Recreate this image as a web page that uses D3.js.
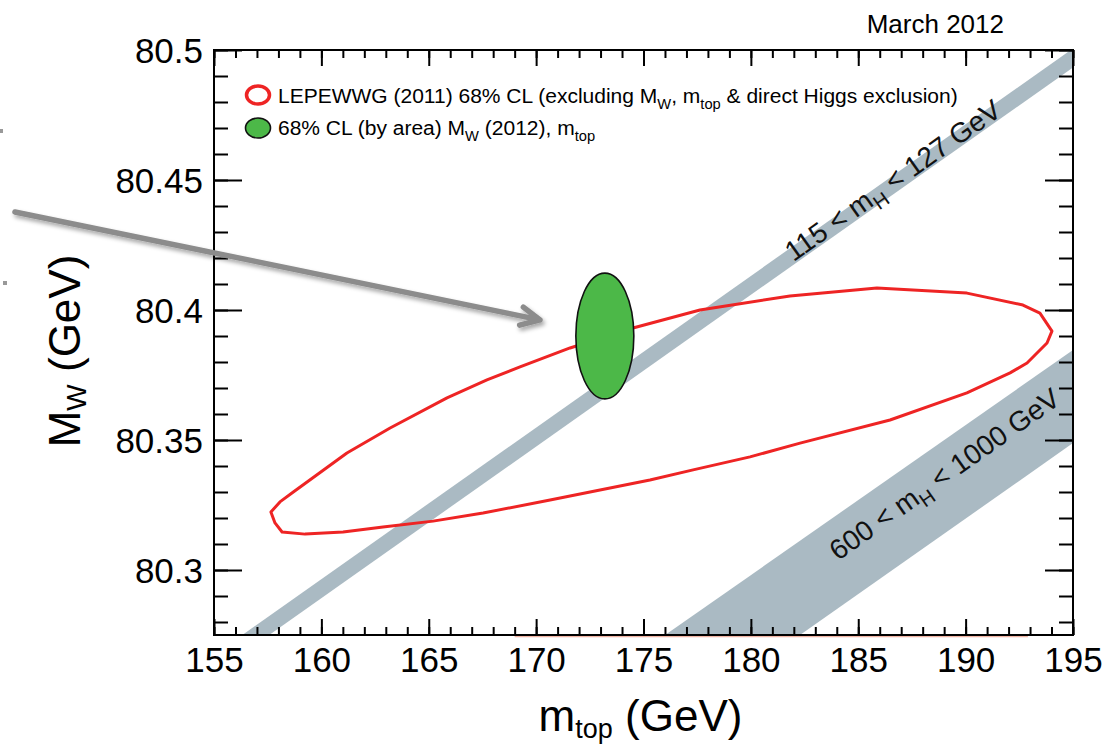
<!DOCTYPE html>
<html>
<head>
<meta charset="utf-8">
<script src="https://cdn.jsdelivr.net/npm/d3@7"></script>
<style>
  html, body { margin: 0; padding: 0; background: #fff; }
  svg { display: block; font-family: "Liberation Sans", Arial, Helvetica, sans-serif; }
</style>
</head>
<body>
<svg id="chart" width="1106" height="747"></svg>
<script>
// ---------------- data ----------------
const mtDomain = [155, 195];
const mwDomain = [80.275, 80.5];
const mtMajorTicks = [155, 160, 165, 170, 175, 180, 185, 190, 195];
const mtMinorTicks = d3.range(155, 196, 1);
const mwMajorTicks = [80.3, 80.35, 80.4, 80.45, 80.5];
const mwMinorTicks = d3.range(28, 51, 1).map(d => 80 + d / 100);

// LEPEWWG (2011) 68% CL contour (m_top, M_W)
const lepContour = [
  [157.65, 80.3223], [158.07, 80.3262], [158.63, 80.3296], [161.19, 80.3450],
  [163.20, 80.3546], [165.85, 80.3662], [167.71, 80.3731], [169.25, 80.3781],
  [171.58, 80.3854], [174.51, 80.3931], [177.63, 80.4000], [181.82, 80.4054],
  [185.87, 80.4085], [190.06, 80.4065], [192.67, 80.4019], [193.46, 80.3988],
  [194.02, 80.3919], [193.79, 80.3873], [192.86, 80.3796], [192.07, 80.3758],
  [190.06, 80.3681], [186.48, 80.3577], [182.29, 80.3488], [179.96, 80.3435],
  [177.31, 80.3385], [175.30, 80.3346], [170.65, 80.3269], [167.53, 80.3219],
  [165.20, 80.3188], [162.87, 80.3165], [161.01, 80.3146], [159.24, 80.3138],
  [158.17, 80.3146], [157.84, 80.3181]
];

// Higgs-mass bands (edges at m_top = 155 and 195)
const lightBandUpper = [[155, 80.2673], [195, 80.5006]];
const lightBandLower = [[155, 80.2600], [195, 80.4933]];
const heavyBandUpper = [[155, 80.1538], [195, 80.3846]];
const heavyBandLower = [[155, 80.1166], [195, 80.3488]];
const bandLabels = [
  { pre: "115 < m", sub: "H", post: " < 127 GeV", mt: 186.6, mw: 80.4500, slope: 0.005833 },
  { pre: "600 < m", sub: "H", post: " < 1000 GeV", mt: 189.0, mw: 80.3370, slope: 0.00585 }
];

// 68% CL (by area) M_W (2012), m_top
const fitCenter = [173.2, 80.39];
const fitRadius = [1.35, 0.0242];

// annotation arrow (data coordinates)
const arrowStart = [145.73, 80.4377];
const arrowEnd = [170.18, 80.3962];

const legendRows = [
  { parts: [["LEPEWWG (2011) 68% CL (excluding M", 0], ["W", 1], [", m", 0], ["top", 1], [" & direct Higgs exclusion)", 0]], kind: "open" },
  { parts: [["68% CL (by area) M", 0], ["W", 1], [" (2012), m", 0], ["top", 1]], kind: "fill" }
];

// ---------------- layout ----------------
const L = 214, R = 1073, T = 50, B = 635;
const svg = d3.select("#chart");
const x = d3.scaleLinear().domain(mtDomain).range([L, R]);
const y = d3.scaleLinear().domain(mwDomain).range([B, T]);

const defs = svg.append("defs");
defs.append("clipPath").attr("id", "plotclip")
  .append("rect").attr("x", L).attr("y", T).attr("width", R - L).attr("height", B - T);
const f = defs.append("filter").attr("id", "shadow").attr("x", "-10%").attr("y", "-50%").attr("width", "120%").attr("height", "200%");
f.append("feDropShadow").attr("dx", 2).attr("dy", 3).attr("stdDeviation", 2)
  .attr("flood-color", "#000").attr("flood-opacity", 0.35);

const plot = svg.append("g").attr("clip-path", "url(#plotclip)");
const bandColor = "#aabac3";
const poly = (up, lo) => up.concat(lo.slice().reverse()).map(p => [x(p[0]), y(p[1])]);
plot.append("path").attr("d", d3.line()(poly(lightBandUpper, lightBandLower)) + "Z").attr("fill", bandColor);
plot.append("path").attr("d", d3.line()(poly(heavyBandUpper, heavyBandLower)) + "Z").attr("fill", bandColor);

// LEP contour
plot.append("path")
  .attr("d", d3.line().x(d => x(d[0])).y(d => y(d[1])).curve(d3.curveLinearClosed)(lepContour))
  .attr("fill", "none").attr("stroke", "#ee2424").attr("stroke-width", 3).attr("stroke-linejoin", "round");

// green ellipse
plot.append("ellipse")
  .attr("cx", x(fitCenter[0])).attr("cy", y(fitCenter[1]))
  .attr("rx", x(fitCenter[0] + fitRadius[0]) - x(fitCenter[0]))
  .attr("ry", y(fitCenter[1] - fitRadius[1]) - y(fitCenter[1]))
  .attr("fill", "#4cb848").attr("stroke", "#111").attr("stroke-width", 1.6);

// faint red line beneath axis
svg.append("line").attr("x1", x(169.0)).attr("x2", x(192.9)).attr("y1", B + 1.5).attr("y2", B + 1.5)
  .attr("stroke", "#f0b4a4").attr("stroke-width", 1.5);

// ---------------- axes ----------------
function styleAxis(g) {
  g.select(".domain").remove();
  g.selectAll(".tick line").attr("stroke", "#000").attr("stroke-width", 2);
  g.attr("font-family", null).attr("font-size", null);
}
const tickFont = 35;
// bottom
svg.append("g").attr("transform", `translate(0,${B})`)
  .call(d3.axisBottom(x).tickValues(mtMinorTicks).tickSizeInner(-8).tickSizeOuter(0).tickFormat(""))
  .call(styleAxis);
const bx = svg.append("g").attr("transform", `translate(0,${B})`)
  .call(d3.axisBottom(x).tickValues(mtMajorTicks).tickSizeInner(-16).tickSizeOuter(0).tickPadding(12).tickFormat(d3.format("d")))
  .call(styleAxis);
bx.selectAll("text").attr("font-size", tickFont).attr("fill", "#000");
// top
svg.append("g").attr("transform", `translate(0,${T})`)
  .call(d3.axisTop(x).tickValues(mtMinorTicks).tickSizeInner(-8).tickSizeOuter(0).tickFormat(""))
  .call(styleAxis);
svg.append("g").attr("transform", `translate(0,${T})`)
  .call(d3.axisTop(x).tickValues(mtMajorTicks).tickSizeInner(-16).tickSizeOuter(0).tickFormat(""))
  .call(styleAxis);
// left
svg.append("g").attr("transform", `translate(${L},0)`)
  .call(d3.axisLeft(y).tickValues(mwMinorTicks).tickSizeInner(-14).tickSizeOuter(0).tickFormat(""))
  .call(styleAxis);
const ly = svg.append("g").attr("transform", `translate(${L},0)`)
  .call(d3.axisLeft(y).tickValues(mwMajorTicks).tickSizeInner(-28).tickSizeOuter(0).tickPadding(11).tickFormat(d => String(+d.toFixed(2))))
  .call(styleAxis);
ly.selectAll("text").attr("font-size", tickFont).attr("fill", "#000").attr("dy", "0.37em");
// right
svg.append("g").attr("transform", `translate(${R},0)`)
  .call(d3.axisRight(y).tickValues(mwMinorTicks).tickSizeInner(-14).tickSizeOuter(0).tickFormat(""))
  .call(styleAxis);
svg.append("g").attr("transform", `translate(${R},0)`)
  .call(d3.axisRight(y).tickValues(mwMajorTicks).tickSizeInner(-28).tickSizeOuter(0).tickFormat(""))
  .call(styleAxis);
// frame
svg.append("rect").attr("x", L).attr("y", T).attr("width", R - L).attr("height", B - T)
  .attr("fill", "none").attr("stroke", "#000").attr("stroke-width", 2);

// ---------------- axis titles ----------------
const xt = svg.append("text").attr("x", (L + R) / 2 - 3).attr("y", 731).attr("text-anchor", "middle")
  .attr("font-size", 44).attr("fill", "#000");
xt.append("tspan").text("m");
xt.append("tspan").attr("font-size", 27).attr("dy", 7).text("top");
xt.append("tspan").attr("dy", -7).text(" (GeV)");

const yt = svg.append("text").attr("transform", "translate(80,351) rotate(-90)").attr("text-anchor", "middle")
  .attr("font-size", 44).attr("fill", "#000");
yt.append("tspan").text("M");
yt.append("tspan").attr("font-size", 28).attr("dy", 6).text("W");
yt.append("tspan").attr("dy", -6).text(" (GeV)");

svg.append("text").attr("x", 1004).attr("y", 33).attr("text-anchor", "end")
  .attr("font-size", 26).attr("fill", "#000").text("March 2012");

// ---------------- band labels ----------------
bandLabels.forEach(b => {
  const ang = -Math.atan2(b.slope * (y(mwDomain[0]) - y(mwDomain[1])) / (mwDomain[1] - mwDomain[0]),
                          (x(mtDomain[1]) - x(mtDomain[0])) / (mtDomain[1] - mtDomain[0])) * 180 / Math.PI;
  const t = svg.append("text")
    .attr("transform", `translate(${x(b.mt)},${y(b.mw)}) rotate(${ang})`)
    .attr("text-anchor", "middle").attr("dy", "0.36em").attr("font-size", 28).attr("fill", "#111");
  t.append("tspan").text(b.pre);
  t.append("tspan").attr("font-size", 20).attr("dy", 7).text(b.sub);
  t.append("tspan").attr("dy", -7).text(b.post);
});

// ---------------- legend ----------------
const legX = 278, legY0 = 102.5, legDY = 32, legTarget = 680;
let legScale = 1;
legendRows.forEach((row, i) => {
  const cy = legY0 + i * legDY - 7.5;
  if (row.kind === "open") {
    svg.append("ellipse").attr("cx", 258).attr("cy", cy).attr("rx", 11.5).attr("ry", 9)
      .attr("fill", "#fff").attr("stroke", "#ee2424").attr("stroke-width", 3.5);
  } else {
    svg.append("ellipse").attr("cx", 258).attr("cy", cy + 1).attr("rx", 12.5).attr("ry", 10)
      .attr("fill", "#4cb848").attr("stroke", "#111").attr("stroke-width", 1.6);
  }
  const g = svg.append("g").attr("class", "legtext");
  const t = g.append("text").attr("x", 0).attr("y", 0).attr("font-size", 20).attr("fill", "#000");
  let shifted = false;
  row.parts.forEach(([s, sub]) => {
    const sp = t.append("tspan").text(s);
    if (sub) { sp.attr("font-size", 14).attr("dy", 6); shifted = true; }
    else if (shifted) { sp.attr("dy", -6); shifted = false; }
  });
  if (i === 0) legScale = legTarget / t.node().getComputedTextLength();
  g.attr("transform", `translate(${legX},${legY0 + i * legDY}) scale(${legScale},1)`);
});

// ---------------- arrow ----------------
const ax0 = x(arrowStart[0]), ay0 = y(arrowStart[1]);
const ax1 = x(arrowEnd[0]), ay1 = y(arrowEnd[1]);
const dir = Math.atan2(ay1 - ay0, ax1 - ax0);
const headLen = 21, headAng = 26 * Math.PI / 180;
const arrowPath = d3.path();
arrowPath.moveTo(ax0, ay0); arrowPath.lineTo(ax1, ay1);
arrowPath.moveTo(ax1 - headLen * Math.cos(dir - headAng), ay1 - headLen * Math.sin(dir - headAng));
arrowPath.lineTo(ax1, ay1);
arrowPath.lineTo(ax1 - headLen * Math.cos(dir + headAng), ay1 - headLen * Math.sin(dir + headAng));
svg.append("path").attr("d", arrowPath.toString()).attr("fill", "none")
  .attr("stroke", "#8c8c8c").attr("stroke-width", 5.5).attr("stroke-linecap", "round").attr("stroke-linejoin", "round")
  .attr("filter", "url(#shadow)");

// small stray marks at the left edge
svg.append("rect").attr("x", 0).attr("y", 129).attr("width", 3).attr("height", 4).attr("fill", "#999");
svg.append("rect").attr("x", 3).attr("y", 281).attr("width", 4).attr("height", 4).attr("fill", "#999");
</script>
</body>
</html>
